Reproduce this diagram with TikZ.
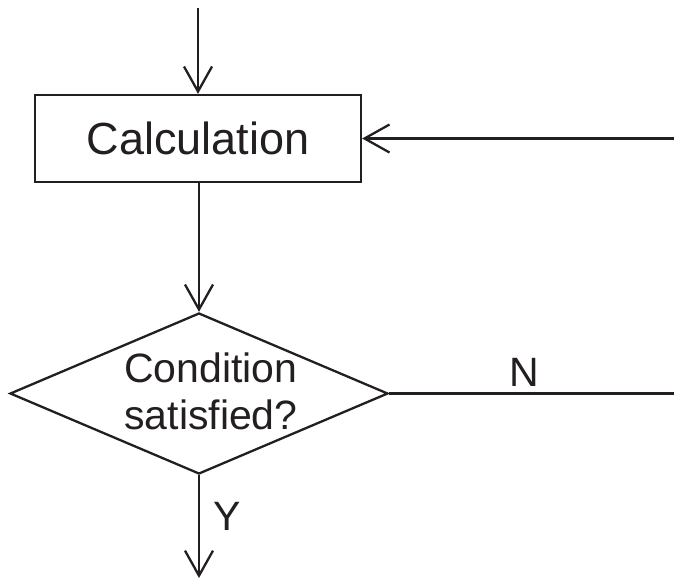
\documentclass[tikz,border=0pt]{standalone}
\usepackage{fontspec}
\setmainfont{Liberation Sans}
\usetikzlibrary{arrows.meta,shapes.geometric}
\definecolor{ink}{HTML}{231F20}
\begin{document}
\begin{tikzpicture}[x=1pt,y=-1pt,
  plainline/.style={line width=2.3pt, draw=ink},
  flowline/.style={plainline, -{Straight Barb[length=25pt,width=28pt,line width=2.3pt]}},
  procbox/.style={draw=ink, line width=2.3pt, minimum width=326pt, minimum height=87pt, inner sep=0pt,
    font=\fontsize{45}{54}\selectfont, text=ink},
  decision/.style={draw=ink, line width=2.3pt, diamond, minimum width=378pt, minimum height=161pt, inner sep=0pt},
  lbl/.style={font=\fontsize{41}{47}\selectfont, text=ink, inner sep=0pt}]
\useasboundingbox (0,0) rectangle (674,579);
\node[procbox] (calc) at (198,138.5) {Calculation};
\node[decision] (cond) at (199,393.5) {};
\node[lbl, align=center] (condtext) at (211,391) {Condition\\satisfied?};
\coordinate (top) at (198,8);
\coordinate (loopin) at (674,138.5);
\coordinate (nout) at (674,393.5);
\coordinate (yout) at (199,578);
\draw[flowline] (top) -- (calc.north);
\draw[flowline] (loopin) -- (calc.east);
\draw[flowline] (cond.north |- calc.south) -- (cond.north);
\draw[plainline] (cond.east) -- (nout);
\draw[flowline] (cond.south) -- (yout);
\node[lbl, anchor=base] (nlab) at (524.5,386) {N};
\node[lbl, anchor=base west] (ylab) at (213,530) {Y};
\end{tikzpicture}
\end{document}
